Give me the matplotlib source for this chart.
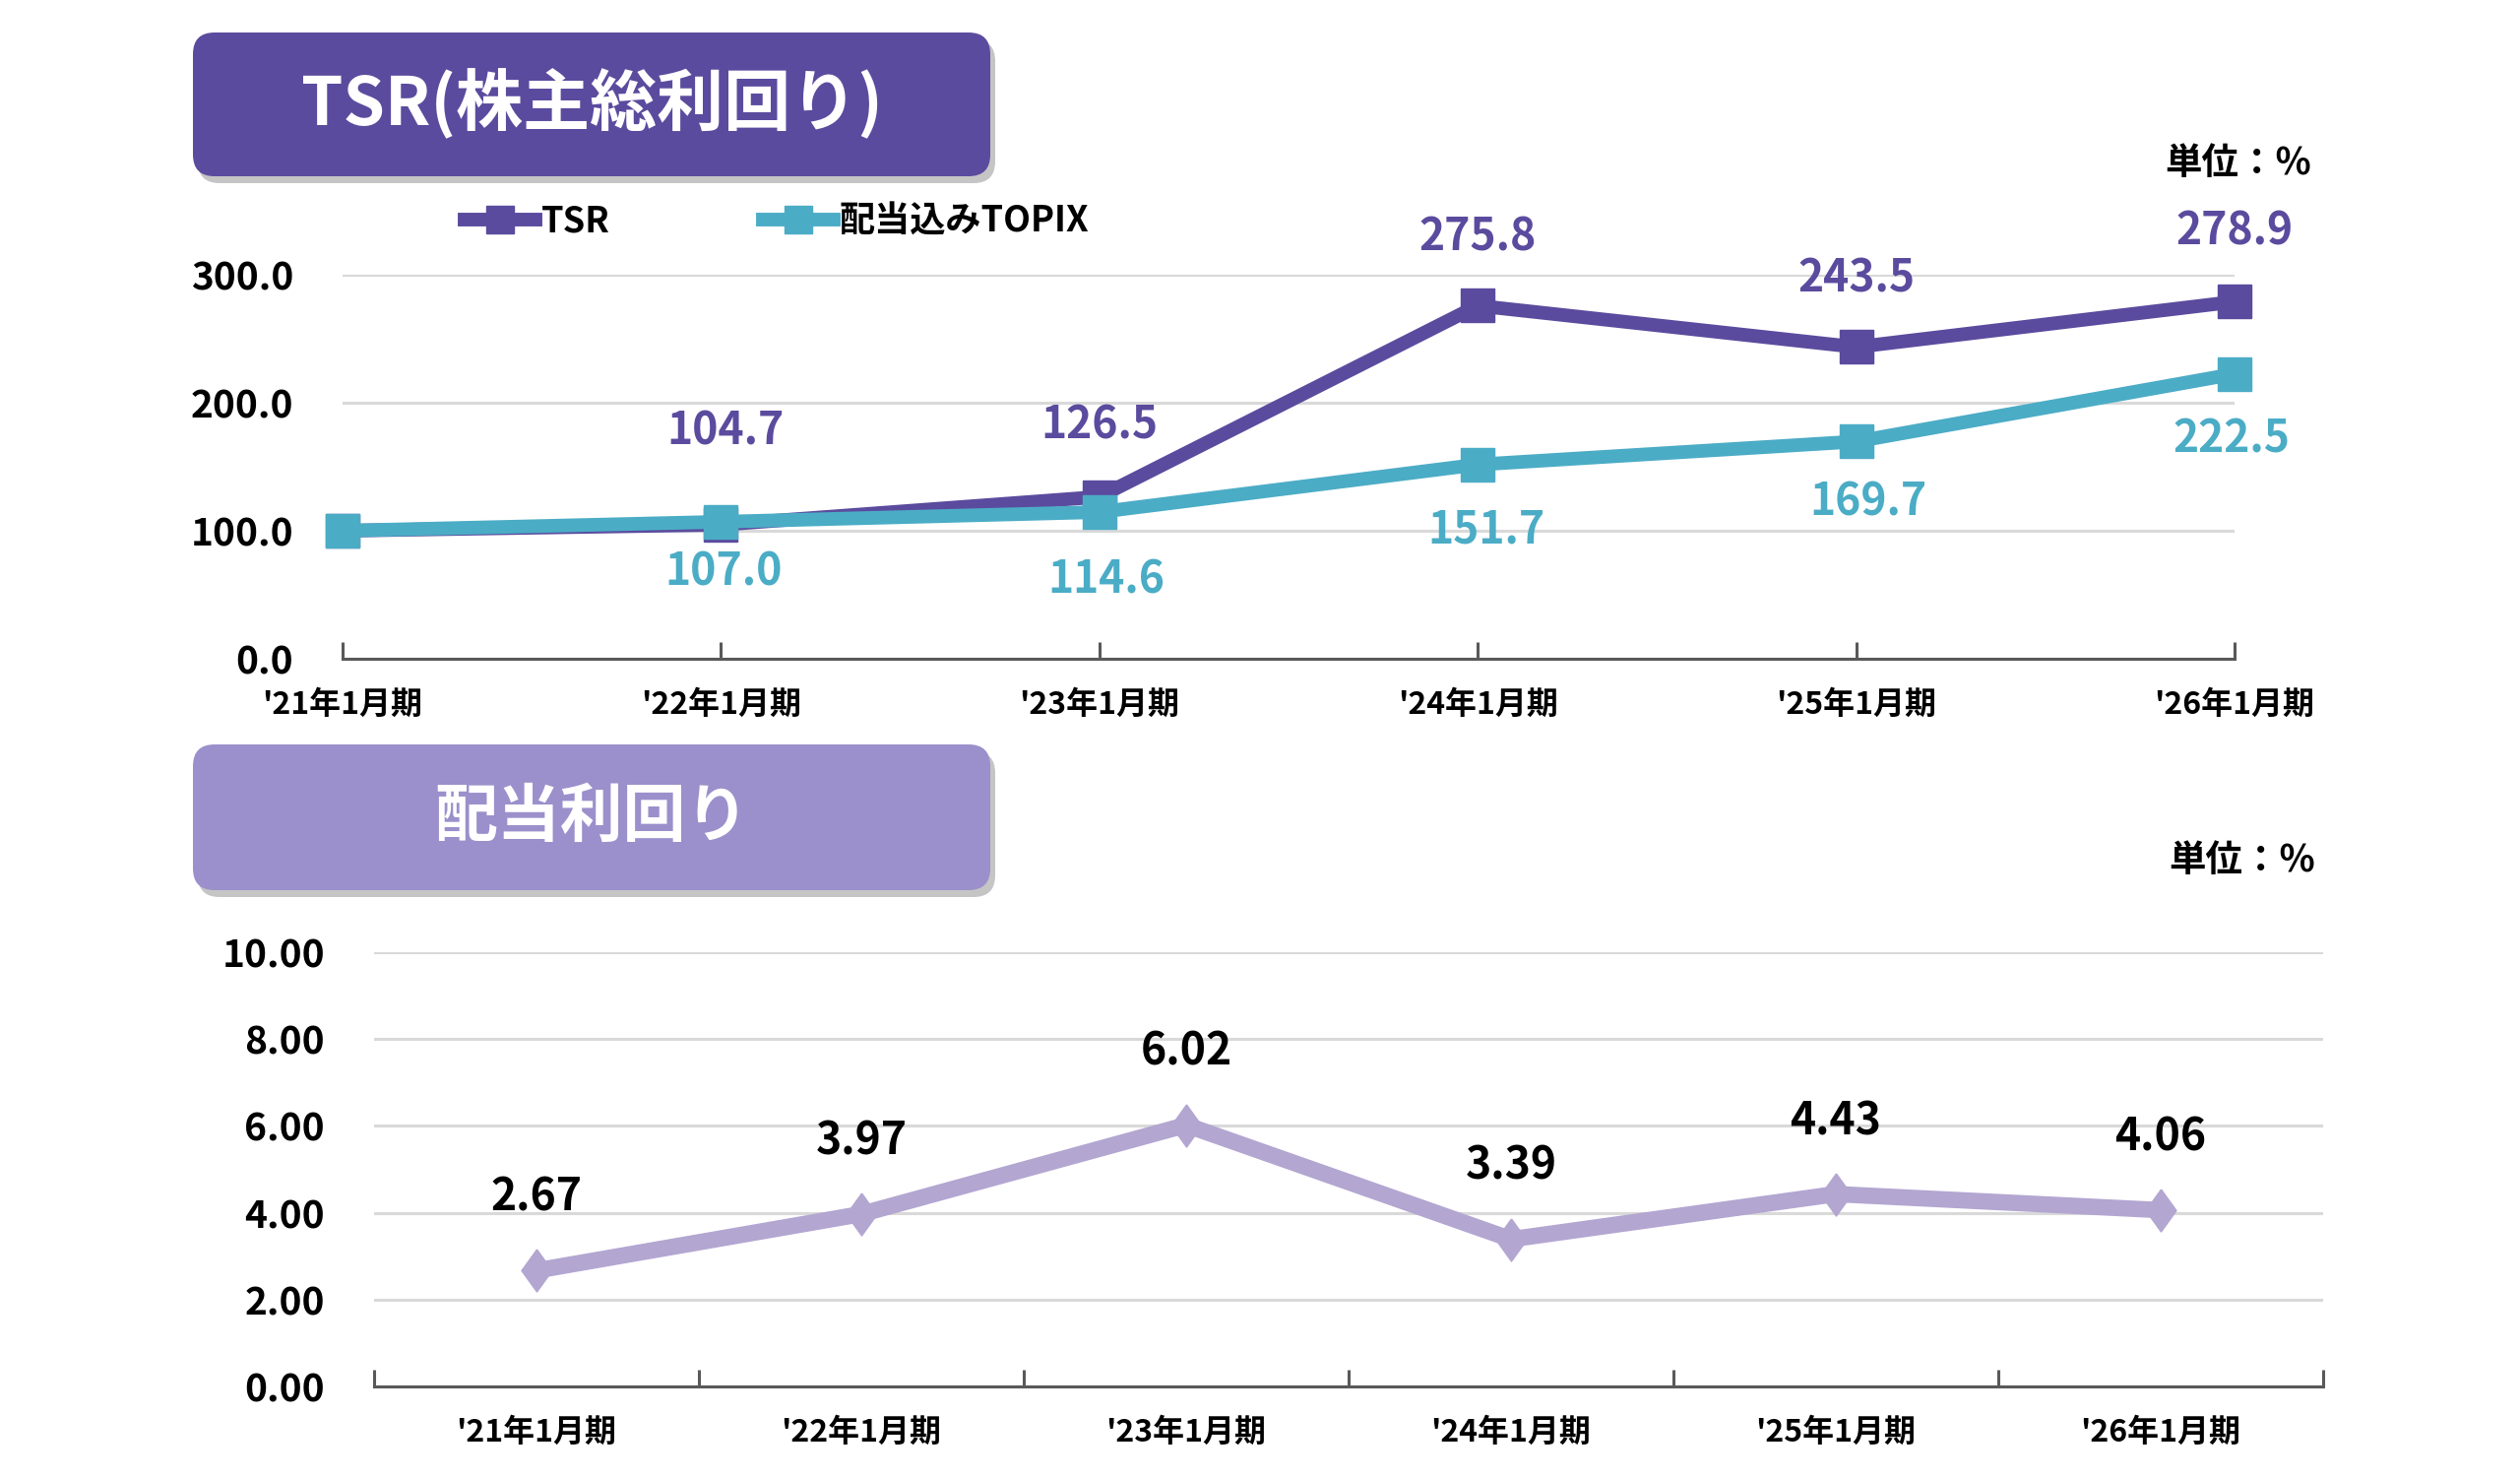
import matplotlib
matplotlib.use("Agg")
import matplotlib.pyplot as plt
from matplotlib.patches import FancyBboxPatch
import numpy as np

plt.rcParams['font.family'] = ['Noto Sans CJK JP', 'DejaVu Sans']
plt.rcParams['font.weight'] = 'bold'

# data
periods = ["'21年1月期", "'22年1月期", "'23年1月期", "'24年1月期", "'25年1月期", "'26年1月期"]
tsr = [100.0, 104.7, 126.5, 275.8, 243.5, 278.9]
topix = [100.0, 107.0, 114.6, 151.7, 169.7, 222.5]
div_yield = [2.67, 3.97, 6.02, 3.39, 4.43, 4.06]

c_tsr = '#5B4B9E'
c_topix = '#4BACC6'
c_div = '#B3A6D1'
c_box2 = '#9B90CB'
grid_c = '#D9D9D9'
axis_c = '#595959'

W, H = 2560, 1502
fig = plt.figure(figsize=(W / 100, H / 100), dpi=100)

def frac(x0, y0, x1, y1):
    # pixel box (top-left origin) -> figure fraction rect
    return [x0 / W, 1 - y1 / H, (x1 - x0) / W, (y1 - y0) / H]

# ---- top chart: TSR ----
ax1 = fig.add_axes(frac(348, 279, 2270, 669))
x = np.arange(len(periods))
ax1.plot(x, tsr, color=c_tsr, lw=10, marker='s', ms=24, clip_on=False, zorder=3, label='TSR')
ax1.plot(x, topix, color=c_topix, lw=10, marker='s', ms=24, clip_on=False, zorder=4,
         label='配当込みTOPIX')
ax1.set_xlim(0, 5)
ax1.set_ylim(0, 300)
ax1.set_yticks([0, 100, 200, 300])
ax1.set_yticklabels(['%.1f' % v for v in [0, 100, 200, 300]])
ax1.set_xticks(x)
ax1.set_xticklabels(periods)
ax1.yaxis.grid(True, color=grid_c, lw=2.2)
ax1.set_axisbelow(True)
for s in ['top', 'right', 'left']:
    ax1.spines[s].set_visible(False)
ax1.spines['bottom'].set_color(axis_c)
ax1.spines['bottom'].set_linewidth(2.2)
ax1.tick_params(axis='y', length=0, pad=36, labelsize=28)
ax1.tick_params(axis='x', direction='in', length=12, width=2.2, color=axis_c, pad=22, labelsize=23)

tsr_off = [None, (3, 68), (0, 52), (0, 50), (0, 50), (0, 51)]
topix_off = [None, (2, -37), (5, -50), (6, -48), (9, -45), (-2, -48)]
for i in range(1, len(x)):
    ax1.annotate('%.1f' % tsr[i], (x[i], tsr[i]), xytext=tsr_off[i], textcoords='offset points',
                 ha='center', va='center', fontsize=32, color=c_tsr, fontweight='bold')
    ax1.annotate('%.1f' % topix[i], (x[i], topix[i]), xytext=topix_off[i], textcoords='offset points',
                 ha='center', va='center', fontsize=32, color=c_topix, fontweight='bold')

h, l = ax1.get_legend_handles_labels()
fig.legend(h, l, loc='center left', bbox_to_anchor=(472 / W, 1 - 225 / H), ncol=2,
           frameon=False, fontsize=26, handlelength=2.0, handletextpad=0.15, columnspacing=4.3,
           borderpad=0, borderaxespad=0, markerscale=0.85)

# ---- bottom chart: dividend yield ----
diamond = [(0, 1), (0.72, 0), (0, -1), (-0.72, 0), (0, 1)]
ax2 = fig.add_axes(frac(380, 967, 2360, 1408))
ax2.plot(x, div_yield, color=c_div, lw=12, marker=diamond, ms=31, clip_on=False, zorder=3)
ax2.set_xlim(-0.5, 5.5)
ax2.set_ylim(0, 10)
ax2.set_yticks(np.arange(0, 11, 2))
ax2.set_yticklabels(['%.2f' % v for v in np.arange(0, 11, 2)])
ax2.set_xticks(x)
ax2.set_xticklabels(periods)
ax2.set_xticks(np.arange(-0.5, 6, 1), minor=True)
ax2.yaxis.grid(True, color=grid_c, lw=2.2)
ax2.set_axisbelow(True)
for s in ['top', 'right', 'left']:
    ax2.spines[s].set_visible(False)
ax2.spines['bottom'].set_color(axis_c)
ax2.spines['bottom'].set_linewidth(2.2)
ax2.tick_params(axis='y', length=0, pad=36, labelsize=28)
ax2.tick_params(axis='x', which='major', length=0, pad=22, labelsize=23)
ax2.tick_params(axis='x', which='minor', direction='in', length=12, width=2.2, color=axis_c)
for i in range(len(x)):
    ax2.annotate('%.2f' % div_yield[i], (x[i], div_yield[i]), xytext=(0, 53), textcoords='offset points',
                 ha='center', va='center', fontsize=32, color='black', fontweight='bold')

# ---- overlay: title boxes and unit labels (pixel coordinates) ----
ov = fig.add_axes([0, 0, 1, 1], zorder=-1)
ov.set_xlim(0, W)
ov.set_ylim(H, 0)
ov.axis('off')

def title_box(x0, y0, x1, y1, color, text, size):
    sh = FancyBboxPatch((x0 + 5, y0 + 7), x1 - x0, y1 - y0, boxstyle='round,pad=0,rounding_size=22',
                        fc='#7F7F7F', ec='none', alpha=0.45)
    ov.add_patch(sh)
    bx = FancyBboxPatch((x0, y0), x1 - x0, y1 - y0, boxstyle='round,pad=0,rounding_size=22',
                        fc=color, ec='none')
    ov.add_patch(bx)
    ov.text((x0 + x1) / 2, (y0 + y1) / 2, text, ha='center', va='center', color='white',
            fontsize=size, fontweight='bold')

title_box(196, 33, 1006, 179, c_tsr, 'TSR(株主総利回り)', 49)
title_box(196, 756, 1006, 904, c_box2, '配当利回り', 46)

ov.text(2348, 165, '単位：%', ha='right', va='center', fontsize=27, fontweight='bold')
ov.text(2352, 874, '単位：%', ha='right', va='center', fontsize=27, fontweight='bold')

fig.savefig('out.png', dpi=100)
